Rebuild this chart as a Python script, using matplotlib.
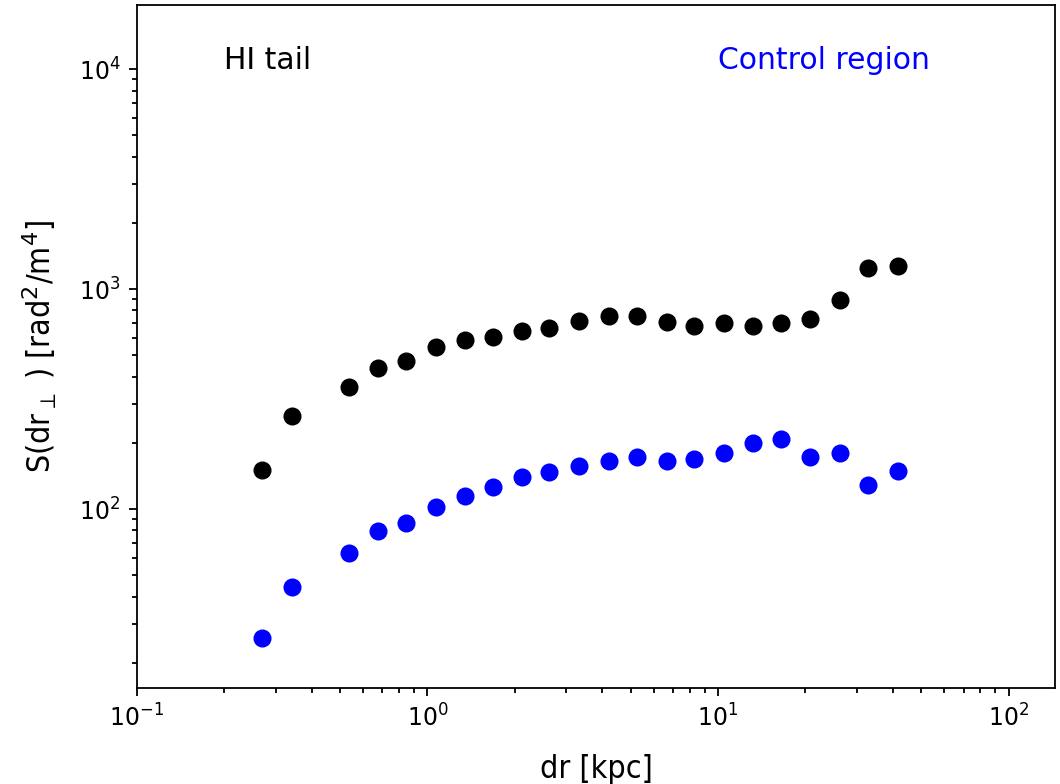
import matplotlib
matplotlib.use("Agg")
import matplotlib.pyplot as plt

dr = [0.269, 0.341, 0.535, 0.676, 0.843, 1.067, 1.346, 1.676, 2.115, 2.62, 3.32,
      4.22, 5.25, 6.66, 8.27, 10.49, 13.2, 16.5, 20.8, 26.3, 32.8, 41.6]
s_tail = [150, 265, 360, 439, 472, 543, 586, 607, 646, 669, 713,
          752, 752, 710, 681, 698, 681, 698, 733, 891, 1246, 1273]
s_control = [25.8, 44.4, 62.9, 79.4, 86.1, 102.4, 115, 126.3, 139.3, 147.7, 156.9,
             165.8, 171.8, 165.8, 168.8, 180.3, 199, 208.8, 172.9, 180.3, 128.5, 148.4]

fig = plt.figure(figsize=(10.6, 7.84), dpi=100)
ax = fig.add_axes([0.1292, 0.1221, 0.8661, 0.8715])

ax.plot(dr, s_tail, 'o', color='black', ms=13, mew=0)
ax.plot(dr, s_control, 'o', color='blue', ms=13, mew=0)

ax.set_xscale('log')
ax.set_yscale('log')
ax.set_xlim(0.1, 144.5)
ax.set_ylim(15.3, 19600)

ax.text(0.2, 1e4, 'HI tail', fontsize=21.5, color='black')
ax.text(10, 1e4, 'Control region', fontsize=21.5, color='blue')

ax.set_xlabel('dr [kpc]', fontsize=23, fontstretch='condensed', labelpad=16)
ax.set_ylabel(r'S(dr$_\perp$ ) [rad$^2$/m$^4$]', fontsize=23,
              fontstretch='condensed', labelpad=14)

ax.tick_params(which='major', length=5.8, width=1.3, labelsize=17, pad=6)
ax.tick_params(which='minor', length=3.3, width=1.3)
for sp in ax.spines.values():
    sp.set_linewidth(1.3)

fig.savefig('out.png', dpi=100)
